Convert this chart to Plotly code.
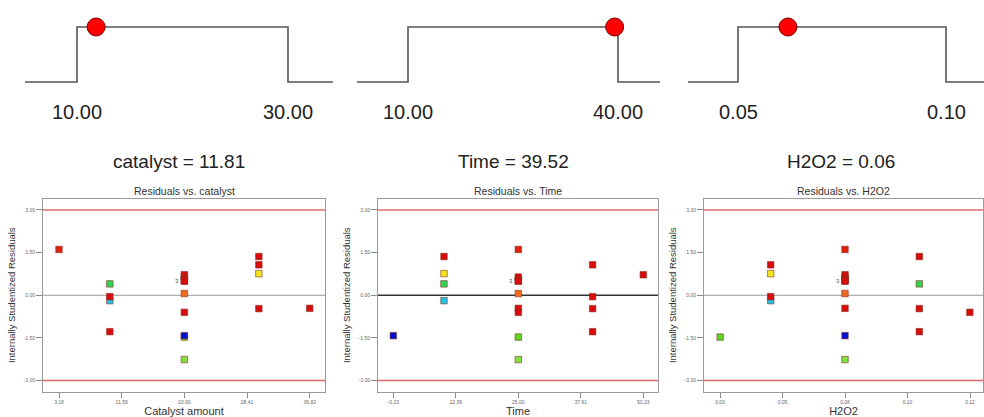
import plotly.graph_objects as go

# ---- factor settings (ramps) ----
factor_names = ["catalyst", "Time", "H2O2"]
factor_low = [10.0, 10.0, 0.05]
factor_high = [30.0, 40.0, 0.10]
factor_opt = [11.81, 39.52, 0.062]
low_labels = ["10.00", "10.00", "0.05"]
high_labels = ["30.00", "40.00", "0.10"]
opt_fmt = [".2f", ".2f", ".2f"]

# ---- design runs (central composite) ----
catalyst = [10, 30, 10, 30, 10, 30, 10, 30, 3.18, 36.82, 20, 20, 20, 20, 20, 20, 20, 20, 20, 20]
time = [10, 10, 40, 40, 10, 10, 40, 40, 25, 25, 25, 25, -0.23, 50.23, 25, 25, 25, 25, 25, 25]
h2o2 = [0.05, 0.05, 0.05, 0.05, 0.10, 0.10, 0.10, 0.10, 0.075, 0.075, 0.033, 0.117,
        0.075, 0.075, 0.075, 0.075, 0.075, 0.075, 0.075, 0.075]
residuals = [-0.19, 0.76, -0.05, 1.07, 0.40, 1.36, -1.28, -0.47, 1.61, -0.46, -1.47, -0.60,
             -1.42, 0.72, 0.64, 0.55, 0.50, 0.50, 0.06, -2.26]
point_colors = ["#22c4e6", "#f2e41e", "#d80c0c", "#d80c0c", "#2ed454", "#d80c0c", "#d80c0c",
                "#d80c0c", "#e0200c", "#d80c0c", "#5cd820", "#d80c0c", "#0010d0", "#d80c0c",
                "#d80c0c", "#d80c0c", "#d80c0c", "#d80c0c", "#f06a1e", "#80e040"]

# residual panels
panel_titles = ["Residuals vs. catalyst", "Residuals vs. Time", "Residuals vs. H2O2"]
axis_titles = ["Catalyst amount", "Time", "H2O2"]
x_tickvals = [[3.18, 11.59, 20.00, 28.41, 36.82],
              [-0.23, 12.39, 25.00, 37.61, 50.23],
              [0.03295, 0.05398, 0.075, 0.09602, 0.11705]]
x_ticktext = [["3.18", "11.59", "20.00", "28.41", "36.82"],
              ["-0.23", "12.39", "25.00", "37.61", "50.23"],
              ["0.03", "0.05", "0.08", "0.10", "0.12"]]
y_tickvals = [3.0, 1.5, 0.0, -1.5, -3.0]
y_ticktext = ["3.00", "1.50", "0.00", "-1.50", "-3.00"]
limit = 3.0
overlap_count = "3"

W, H = 984, 417
def fx(px):
    return px / W
def fy(py):
    return 1 - py / H

# layout geometry (pixels)
ramp_dom = [(25, 333), (357, 660), (688, 984)]
ramp_pix = [(77, 288), (408, 618), (738, 946)]
res_dom = [(43, 325), (378, 658), (704, 983)]
res_pix = [(59, 309.7), (393.3, 643.3), (720, 970)]
res_top, res_bot = 198.5, 392

fig = go.Figure()
layout = dict(width=W, height=H, margin=dict(l=0, r=0, t=0, b=0),
              paper_bgcolor="white", plot_bgcolor="white", showlegend=False,
              font=dict(family="Liberation Sans, Arial, sans-serif"))
annotations = []
shapes = []

for i in range(3):
    # ---------- ramp ----------
    lo, hi = factor_low[i], factor_high[i]
    d0, d1 = ramp_dom[i]
    p0, p1 = ramp_pix[i]
    scale = (hi - lo) / (p1 - p0)
    r0 = lo - (p0 - d0) * scale
    r1 = hi + (d1 - p1) * scale
    xa, ya = f"x{i + 1}", f"y{i + 1}"
    fig.add_trace(go.Scatter(x=[r0, lo, lo, hi, hi, r1], y=[0, 0, 1, 1, 0, 0],
                             mode="lines", line=dict(color="#555555", width=1.6),
                             xaxis=xa, yaxis=ya, hoverinfo="skip"))
    fig.add_trace(go.Scatter(x=[factor_opt[i]], y=[1], mode="markers",
                             marker=dict(size=18, color="#ff0000",
                                         line=dict(color="#7a0000", width=1)),
                             xaxis=xa, yaxis=ya, cliponaxis=False))
    key = "" if i == 0 else str(i + 1)
    layout["xaxis" + key] = dict(domain=[fx(d0), fx(d1)], range=[r0, r1], visible=False,
                                 anchor=ya)
    layout["yaxis" + key] = dict(domain=[fy(95), fy(15)], range=[-0.236, 1.218],
                                 visible=False, anchor=xa)
    for val, txt in ((lo, low_labels[i]), (hi, high_labels[i])):
        annotations.append(dict(x=val, xref=xa, y=fy(112), yref="paper", text=txt,
                                showarrow=False, font=dict(size=20, color="#222222"),
                                xanchor="center", yanchor="middle"))
    annotations.append(dict(x=(fx(d0) + fx(d1)) / 2 + (0.005 if i else 0.0), xref="paper",
                            y=fy(161), yref="paper",
                            text=f"{factor_names[i]} = {format(factor_opt[i], opt_fmt[i])}",
                            showarrow=False, font=dict(size=19, color="#222222"),
                            xanchor="center", yanchor="middle"))

    # ---------- residual plot ----------
    xs = [catalyst, time, h2o2][i]
    d0, d1 = res_dom[i]
    p0, p1 = res_pix[i]
    t0, t1 = x_tickvals[i][0], x_tickvals[i][-1]
    sc = (t1 - t0) / (p1 - p0)
    r0 = t0 - (p0 - d0) * sc
    r1 = t1 + (d1 - p1) * sc
    j = i + 4
    xa, ya = f"x{j}", f"y{j}"
    fig.add_trace(go.Scatter(x=xs, y=residuals, mode="markers",
                             marker=dict(symbol="square", size=6.5, color=point_colors,
                                         line=dict(color="#8a3020", width=0.6)),
                             xaxis=xa, yaxis=ya))
    layout[f"xaxis{j}"] = dict(domain=[fx(d0), fx(d1)], range=[r0, r1], anchor=ya,
                               tickvals=x_tickvals[i], ticktext=x_ticktext[i],
                               ticks="outside", ticklen=5, tickcolor="#888888",
                               tickfont=dict(size=5, color="#666666"),
                               showline=True, linecolor="#9a9a9a", linewidth=1,
                               mirror=True, showgrid=False, zeroline=False,
                               title=dict(text=axis_titles[i], standoff=5,
                                          font=dict(size=11, color="#333333")))
    layout[f"yaxis{j}"] = dict(domain=[fy(res_bot), fy(res_top)], range=[-3.4, 3.4],
                               anchor=xa, tickvals=y_tickvals, ticktext=y_ticktext,
                               ticks="outside", ticklen=6, tickcolor="#888888",
                               tickfont=dict(size=5, color="#666666"),
                               showline=True, linecolor="#9a9a9a", linewidth=1,
                               mirror=True, showgrid=False, zeroline=False,
                               title=dict(text="Internally Studentized Residuals", standoff=6,
                                          font=dict(size=9.5, color="#333333")))
    # limit lines and zero line
    for lv in (limit, -limit):
        shapes.append(dict(type="line", xref=f"{xa} domain", yref=ya, x0=0, x1=1,
                           y0=lv, y1=lv, line=dict(color="#e06a6a", width=1.5)))
    zero_col, zero_w = ("#333333", 1.5) if i == 1 else ("#9a9a9a", 1)
    shapes.append(dict(type="line", xref=f"{xa} domain", yref=ya, x0=0, x1=1,
                       y0=0, y1=0, line=dict(color=zero_col, width=zero_w), layer="below"))
    annotations.append(dict(x=(fx(d0) + fx(d1)) / 2, xref="paper", y=fy(res_top) - 0.002,
                            yref="paper", text=panel_titles[i], showarrow=False,
                            font=dict(size=10.5, color="#333333"),
                            xanchor="center", yanchor="bottom"))
    # overlap count next to the centre-point cluster
    cx = [catalyst, time, h2o2][i][16]
    annotations.append(dict(x=cx, xref=xa, y=residuals[16], yref=ya, text=overlap_count,
                            showarrow=False, xshift=-7, font=dict(size=6, color="#555555")))

layout["annotations"] = annotations
layout["shapes"] = shapes
fig.update_layout(**layout)
fig.write_html("out.html")
